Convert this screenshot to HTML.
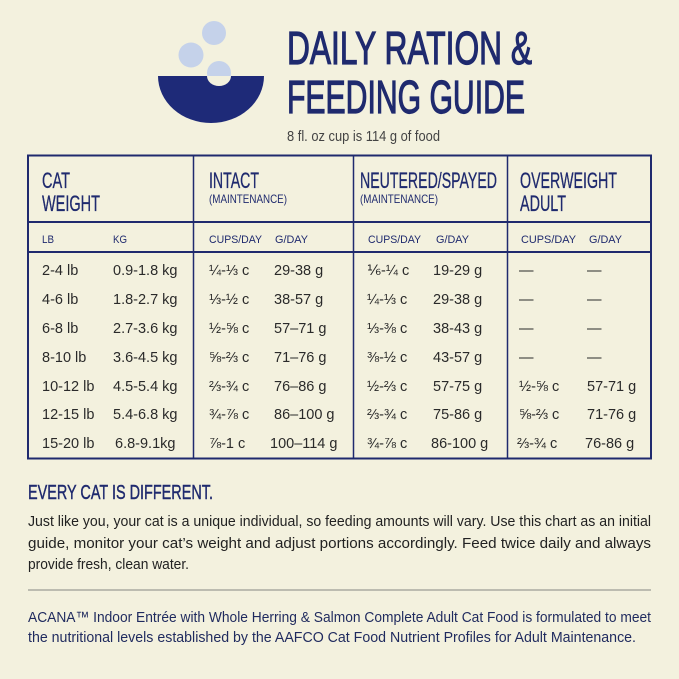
<!DOCTYPE html>
<html><head><meta charset="utf-8"><style>
html,body{margin:0;padding:0;background:#f3f1de;}
svg{display:block}
text{font-family:"Liberation Sans",sans-serif;}
.h{fill:#1f2a6e}
.d{fill:#2a2a2a;font-size:14.5px}
.s{fill:#1f2a6e;font-size:11px}
</style></head><body>
<svg width="679" height="679" viewBox="0 0 679 679" xmlns="http://www.w3.org/2000/svg">
<rect width="679" height="679" fill="#f3f1de"/>
<circle cx="214" cy="33" r="12" fill="#c5d2ea"/>
<circle cx="191" cy="55" r="12.5" fill="#c5d2ea"/>
<circle cx="219" cy="73" r="12" fill="#c5d2ea"/>
<path d="M158 76 L264 76 A53 47 0 0 1 158 76 Z" fill="#1e2a78"/>
<path d="M207 76 A12 10 0 0 0 231 76 Z" fill="#f3f1de"/>
<g class="h" stroke="#1f2a6e" stroke-width="1.2">
<text x="287" y="64" font-size="46" textLength="245" lengthAdjust="spacingAndGlyphs">DAILY RATION &amp;</text>
<text x="287" y="113" font-size="46" textLength="238" lengthAdjust="spacingAndGlyphs">FEEDING GUIDE</text>
</g>
<text x="287" y="141" fill="#444" font-size="15" textLength="153" lengthAdjust="spacingAndGlyphs">8 fl. oz cup is 114 g of food</text>
<g stroke="#1f2a6e" fill="none">
<rect x="28" y="155.5" width="623" height="303" stroke-width="2"/>
<line x1="28" y1="222" x2="651" y2="222" stroke-width="2"/>
<line x1="28" y1="252" x2="651" y2="252" stroke-width="2"/>
<line x1="193.5" y1="155" x2="193.5" y2="459" stroke-width="1.5"/>
<line x1="353.5" y1="155" x2="353.5" y2="459" stroke-width="1.5"/>
<line x1="507.5" y1="155" x2="507.5" y2="459" stroke-width="1.5"/>
</g>
<g class="h" font-size="22" stroke="#1f2a6e" stroke-width="0.3">
<text x="42" y="188" textLength="28" lengthAdjust="spacingAndGlyphs">CAT</text>
<text x="42" y="211" textLength="58" lengthAdjust="spacingAndGlyphs">WEIGHT</text>
<text x="209" y="188" textLength="50" lengthAdjust="spacingAndGlyphs">INTACT</text>
<text x="360" y="188" textLength="137" lengthAdjust="spacingAndGlyphs">NEUTERED/SPAYED</text>
<text x="520" y="188" textLength="97" lengthAdjust="spacingAndGlyphs">OVERWEIGHT</text>
<text x="520" y="211" textLength="46" lengthAdjust="spacingAndGlyphs">ADULT</text>
</g>
<g class="h" font-size="12">
<text x="209" y="203" textLength="78" lengthAdjust="spacingAndGlyphs">(MAINTENANCE)</text>
<text x="360" y="203" textLength="78" lengthAdjust="spacingAndGlyphs">(MAINTENANCE)</text>
</g>
<g class="s">
<text x="42" y="243" textLength="12" lengthAdjust="spacingAndGlyphs">LB</text>
<text x="113" y="243" textLength="14" lengthAdjust="spacingAndGlyphs">KG</text>
<text x="209" y="243" textLength="53" lengthAdjust="spacingAndGlyphs">CUPS/DAY</text>
<text x="275" y="243" textLength="33" lengthAdjust="spacingAndGlyphs">G/DAY</text>
<text x="368" y="243" textLength="53" lengthAdjust="spacingAndGlyphs">CUPS/DAY</text>
<text x="436" y="243" textLength="33" lengthAdjust="spacingAndGlyphs">G/DAY</text>
<text x="521" y="243" textLength="55" lengthAdjust="spacingAndGlyphs">CUPS/DAY</text>
<text x="589" y="243" textLength="33" lengthAdjust="spacingAndGlyphs">G/DAY</text>
</g>
<g class="d">
<text x="42" y="275">2-4 lb</text><text x="113" y="275">0.9-1.8 kg</text><text x="209" y="275">¼-⅓ c</text><text x="274" y="275">29-38 g</text><text x="367" y="275">⅙-¼ c</text><text x="433" y="275">19-29 g</text><text x="519" y="275">—</text><text x="587" y="275">—</text>
<text x="42" y="304">4-6 lb</text><text x="113" y="304">1.8-2.7 kg</text><text x="209" y="304">⅓-½ c</text><text x="274" y="304">38-57 g</text><text x="367" y="304">¼-⅓ c</text><text x="433" y="304">29-38 g</text><text x="519" y="304">—</text><text x="587" y="304">—</text>
<text x="42" y="333">6-8 lb</text><text x="113" y="333">2.7-3.6 kg</text><text x="209" y="333">½-⅝ c</text><text x="274" y="333">57–71 g</text><text x="367" y="333">⅓-⅜ c</text><text x="433" y="333">38-43 g</text><text x="519" y="333">—</text><text x="587" y="333">—</text>
<text x="42" y="362">8-10 lb</text><text x="113" y="362">3.6-4.5 kg</text><text x="209" y="362">⅝-⅔ c</text><text x="274" y="362">71–76 g</text><text x="367" y="362">⅜-½ c</text><text x="433" y="362">43-57 g</text><text x="519" y="362">—</text><text x="587" y="362">—</text>
<text x="42" y="391">10-12 lb</text><text x="113" y="391">4.5-5.4 kg</text><text x="209" y="391">⅔-¾ c</text><text x="274" y="391">76–86 g</text><text x="367" y="391">½-⅔ c</text><text x="433" y="391">57-75 g</text><text x="519" y="391">½-⅝ c</text><text x="587" y="391">57-71 g</text>
<text x="42" y="419">12-15 lb</text><text x="113" y="419">5.4-6.8 kg</text><text x="209" y="419">¾-⅞ c</text><text x="274" y="419">86–100 g</text><text x="367" y="419">⅔-¾ c</text><text x="433" y="419">75-86 g</text><text x="519" y="419">⅝-⅔ c</text><text x="587" y="419">71-76 g</text>
<text x="42" y="448">15-20 lb</text><text x="115" y="448">6.8-9.1kg</text><text x="209" y="448">⅞-1 c</text><text x="270" y="448">100–114 g</text><text x="367" y="448">¾-⅞ c</text><text x="431" y="448">86-100 g</text><text x="517" y="448">⅔-¾ c</text><text x="585" y="448">76-86 g</text>
</g>
<text x="28" y="499" class="h" font-size="20" stroke="#1f2a6e" stroke-width="0.4" textLength="185" lengthAdjust="spacingAndGlyphs">EVERY CAT IS DIFFERENT.</text>
<g fill="#222" font-size="15">
<text x="28" y="526" textLength="623" lengthAdjust="spacingAndGlyphs">Just like you, your cat is a unique individual, so feeding amounts will vary. Use this chart as an initial</text>
<text x="28" y="548" textLength="623" lengthAdjust="spacingAndGlyphs">guide, monitor your cat’s weight and adjust portions accordingly. Feed twice daily and always</text>
<text x="28" y="569" textLength="161" lengthAdjust="spacingAndGlyphs">provide fresh, clean water.</text>
</g>
<line x1="28" y1="590" x2="651" y2="590" stroke="#a9aba0" stroke-width="1.5"/>
<g fill="#1f2a5e" font-size="15">
<text x="28" y="622" textLength="623" lengthAdjust="spacingAndGlyphs">ACANA™ Indoor Entrée with Whole Herring &amp; Salmon Complete Adult Cat Food is formulated to meet</text>
<text x="28" y="642" textLength="608" lengthAdjust="spacingAndGlyphs">the nutritional levels established by the AAFCO Cat Food Nutrient Profiles for Adult Maintenance.</text>
</g>
</svg>
</body></html>
